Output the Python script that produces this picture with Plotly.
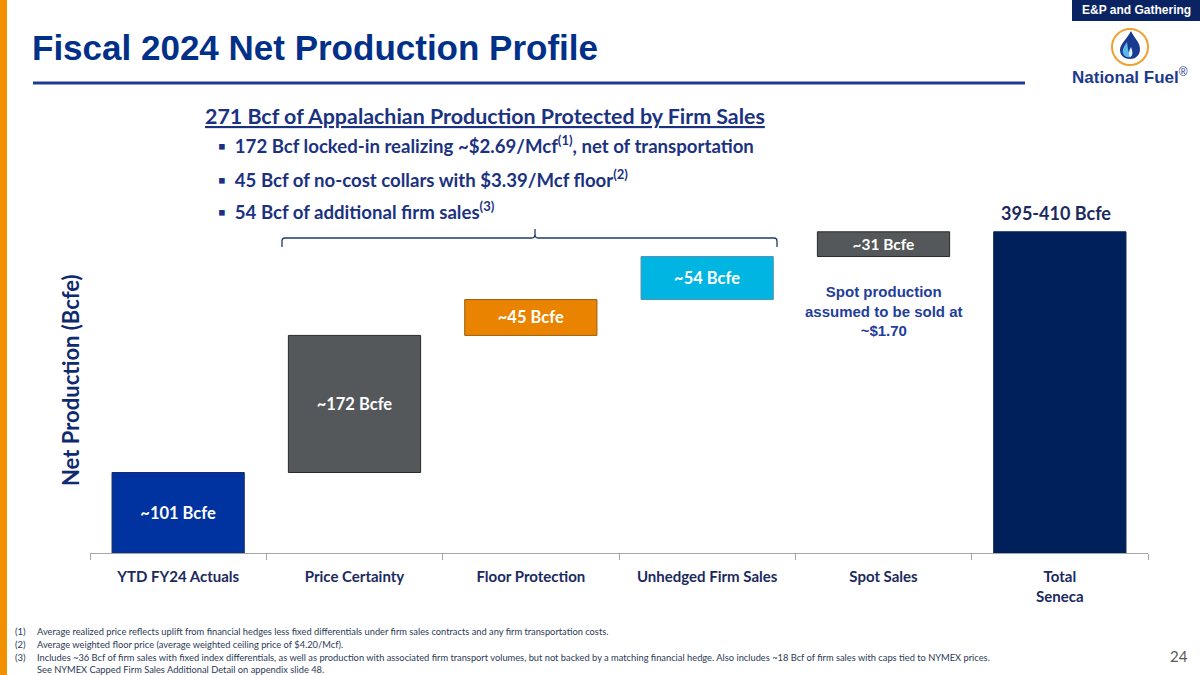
import plotly.graph_objects as go

# ---- data ----
categories = ["YTD FY24 Actuals", "Price Certainty", "Floor Protection",
              "Unhedged Firm Sales", "Spot Sales", "Total<br>Seneca"]
increments = [101, 172, 45, 54, 31]
labels = ["~101 Bcfe", "~172 Bcfe", "~45 Bcfe", "~54 Bcfe", "~31 Bcfe", ""]
total_label = "395-410 Bcfe"
bar_colors = ["#0033A0", "#54585A", "#E98300", "#00B5E2", "#54585A", "#00205B"]
line_colors = ["#1B2A6B", "#2A2A2A", "#9A6010", "#5A8FA8", "#2A2A2A", "#00205B"]

bases = []
run = 0
for v in increments:
    bases.append(run)
    run += v
total = run
values = increments + [total]
bases = bases + [0]

W, H = 1200, 675
L, R, T, B = 90, 52, 100, 122
PW, PH = W - L - R, H - T - B
Y_MAX = PH / 0.797

def px(x):
    return (x - L) / PW

def py(y):
    return (H - B - y) / PH

NAVY = "#1B3281"

fig = go.Figure()
fig.add_trace(go.Bar(
    x=categories, y=values, base=bases, width=0.75,
    marker=dict(color=bar_colors, line=dict(color=line_colors, width=1)),
    text=labels, textposition="inside", insidetextanchor="middle",
    textfont=dict(family="Lato", size=16.5, color="white", weight="bold"),
    hoverinfo="skip", showlegend=False,
))

fig.add_annotation(x=categories[-1], y=total, yref="y", text="<b>" + total_label + "</b>",
                   showarrow=False, yanchor="bottom", yshift=6, xshift=-4,
                   font=dict(family="Lato", size=18, color="#1B2A5E"))

fig.add_annotation(x=categories[4], y=bases[4], text="<b>Spot production<br>assumed to be sold at<br>~$1.70</b>",
                   showarrow=False, yanchor="top", align="center", yshift=-24,
                   font=dict(family="Liberation Sans", size=15, color="#1F3E9A"))

shapes = []
# orange strip
shapes.append(dict(type="rect", xref="paper", yref="paper", x0=px(0), x1=px(7), y0=py(675), y1=py(0),
                   fillcolor="#F29100", line=dict(width=0), layer="above"))
# top right box
shapes.append(dict(type="rect", xref="paper", yref="paper", x0=px(1072), x1=px(1200), y0=py(21), y1=py(0),
                   fillcolor="#0A2463", line=dict(width=0)))
# title rule
shapes.append(dict(type="line", xref="paper", yref="paper", x0=px(33), x1=px(1025), y0=py(83), y1=py(83),
                   line=dict(color="#1F3A93", width=3)))

def pth(points_cmds):
    out = []
    for cmd in points_cmds:
        if isinstance(cmd, str):
            out.append(cmd)
        else:
            out.append(f"{px(cmd[0]):.5f},{py(cmd[1]):.5f}")
    return " ".join(out)

# bracket
bracket = pth(["M", (282, 247), "L", (282, 241), "Q", (282, 238), (285, 238), "L", (532, 238),
               "Q", (535, 238), (535, 234), "L", (535, 229), "L", (535, 234), "Q", (535, 238), (538, 238),
               "L", (774, 238), "Q", (777, 238), (777, 241), "L", (777, 247)])
shapes.append(dict(type="path", xref="paper", yref="paper", path=bracket,
                   line=dict(color="#1F3A6E", width=1.3)))
# logo circle
shapes.append(dict(type="circle", xref="paper", yref="paper", x0=px(1112), x1=px(1148), y0=py(65), y1=py(29),
                   line=dict(color="#F0A030", width=2), fillcolor="white"))
drop_outer = pth(["M", (1131, 31), "C", (1127, 39), (1120, 44), (1120, 50), "C", (1120, 56), (1125, 59), (1130, 59),
                  "C", (1135, 59), (1140, 56), (1140, 49), "C", (1140, 42), (1134, 38), (1131, 31), "Z"])
shapes.append(dict(type="path", xref="paper", yref="paper", path=drop_outer,
                   fillcolor="#1A3A8F", line=dict(width=0)))
drop_inner = pth(["M", (1127, 42), "C", (1124, 46), (1122, 50), (1123, 53), "C", (1124, 57), (1128, 58), (1131, 57),
                  "C", (1129, 54), (1128, 50), (1127, 42), "Z"])
shapes.append(dict(type="path", xref="paper", yref="paper", path=drop_inner,
                   fillcolor="#5BB8E8", line=dict(width=0)))
drop_core = pth(["M", (1131, 47), "C", (1129, 51), (1128, 54), (1130, 57), "C", (1133, 56), (1133, 52), (1131, 47), "Z"])
shapes.append(dict(type="path", xref="paper", yref="paper", path=drop_core,
                   fillcolor="#DDF0FA", line=dict(width=0)))

annotations = []
def txt(x, y, text, size, color, family="Lato", xanchor="left", yanchor="middle", **kw):
    annotations.append(dict(xref="paper", yref="paper", x=px(x), y=py(y), text=text, showarrow=False,
                            xanchor=xanchor, yanchor=yanchor, align=xanchor if xanchor != "center" else "center",
                            font=dict(family=family, size=size, color=color), **kw))

txt(1136, 10, "<b>E&P and Gathering</b>", 12, "white", family="Liberation Sans", xanchor="center")
txt(30, 47, "<b>Fiscal 2024 Net Production Profile</b>", 35, "#003087", family="Liberation Sans")
txt(1130, 76, "<b>National Fuel</b><sup>®</sup>", 17, "#1D3A8E", family="Liberation Sans", xanchor="center")

txt(203, 116, "<b><u>271 Bcf of Appalachian Production Protected by Firm Sales</u></b>", 21.4, NAVY)
txt(216, 145, "<b>▪  172 Bcf locked-in realizing ~$2.69/Mcf<sup>(1)</sup>, net of transportation</b>", 18.6, NAVY)
txt(216, 178, "<b>▪  45 Bcf of no-cost collars with $3.39/Mcf floor<sup>(2)</sup></b>", 18.6, NAVY)
txt(216, 210, "<b>▪  54 Bcf of additional firm sales<sup>(3)</sup></b>", 18.6, NAVY)

txt(70, 380, "<b>Net Production (Bcfe)</b>", 22, "#0F2A6E", xanchor="center", textangle=-90)

foot_color = "#2B3A55"
foot = [
    ("(1)", "Average realized price reflects uplift from financial hedges less fixed differentials under firm sales contracts and any firm transportation costs.", 631),
    ("(2)", "Average weighted floor price (average weighted ceiling price of $4.20/Mcf).", 644),
    ("(3)", "Includes ~36 Bcf of firm sales with fixed index differentials, as well as production with associated firm transport volumes, but not backed by a matching financial hedge. Also includes ~18 Bcf of firm sales with caps tied to NYMEX prices.", 657),
    ("", "See NYMEX Capped Firm Sales Additional Detail on appendix slide 48.", 669),
]
for num, t, y in foot:
    if num:
        txt(13, y, num, 9.5, foot_color)
    txt(35, y, t, 9.3, foot_color)
txt(1190, 656, "24", 15, "#595959", xanchor="right")

fig.update_layout(
    width=W, height=H, margin=dict(l=L, r=R, t=T, b=B, autoexpand=False),
    paper_bgcolor="white", plot_bgcolor="white",
    shapes=shapes, annotations=list(fig.layout.annotations) + annotations,
    bargap=0.25,
    xaxis=dict(type="category", showline=True, linecolor="#A6A6A6", linewidth=1,
               ticks="outside", tickson="boundaries", ticklen=6, tickcolor="#A6A6A6",
               ticklabelstandoff=10,
               showgrid=False, tickfont=dict(family="Lato", size=15, color="#1B2A5E", weight="bold"),
               fixedrange=True),
    yaxis=dict(range=[0, Y_MAX], visible=False, fixedrange=True),
)

fig.write_html("out.html", config={"displayModeBar": False, "staticPlot": True},
               post_script="document.body.style.margin='0';document.body.style.overflow='hidden';")
